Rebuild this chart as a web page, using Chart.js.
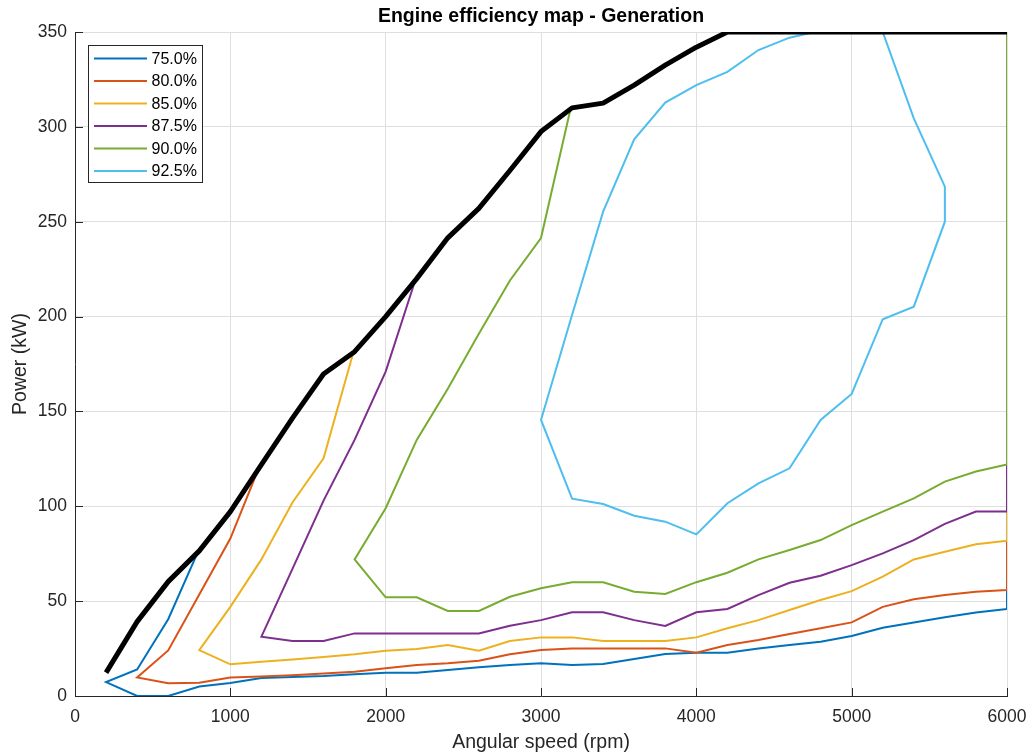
<!DOCTYPE html>
<html>
<head>
<meta charset="utf-8">
<title>Engine efficiency map - Generation</title>
<script src="https://cdn.jsdelivr.net/npm/chart.js@4.4.1/dist/chart.umd.min.js"></script>
<style>
  html, body { margin: 0; padding: 0; background: #ffffff; }
  #wrap { width: 1032px; height: 756px; }
</style>
</head>
<body>
<div id="wrap"><canvas id="map" width="1032" height="756"></canvas></div>
<script>
// Efficiency contour levels shown in the legend
const levelLabels = ['75.0%', '80.0%', '85.0%', '87.5%', '90.0%', '92.5%'];
const levelColors = ['#0072BD', '#D95319', '#EDB120', '#7E2F8E', '#77AC30', '#4DBEEE'];

// 75.0 % contour (rpm / kW)
const rpm750 = [790, 600, 400, 200, 400, 600, 800, 1000, 1200, 1400, 1600, 1800, 2000, 2200, 2400, 2600, 2800, 3000, 3200, 3400, 3600, 3800, 4000, 4200, 4400, 4600, 4800, 5000, 5200, 5400, 5600, 5800, 6000, 6000];
const kw750  = [75.7, 40.5, 14, 7.3, 0, 0, 5, 6.8, 9.5, 10, 10.5, 11.5, 12.3, 12.3, 13.7, 15.1, 16.3, 17.2, 16.4, 16.9, 19.5, 22.1, 22.8, 22.8, 25, 26.9, 28.6, 31.6, 36, 38.8, 41.5, 44, 45.9, 55.9];

// 80.0 % contour
const rpm800 = [1180, 1000, 800, 600, 400, 600, 800, 1000, 1200, 1400, 1600, 1800, 2000, 2200, 2400, 2600, 2800, 3000, 3200, 3400, 3600, 3800, 4000, 4200, 4400, 4600, 4800, 5000, 5200, 5400, 5600, 5800, 6000, 6000];
const kw800  = [119.5, 83, 53.5, 24, 9.8, 6.7, 7, 9.8, 10.3, 11, 11.8, 12.8, 14.6, 16.3, 17.2, 18.6, 22, 24.2, 25.1, 25.1, 25.1, 25.1, 22.8, 26.9, 29.5, 32.7, 35.7, 38.8, 47, 51, 53.2, 55, 55.9, 81.9];

// 85.0 % contour
const rpm850 = [1790, 1600, 1400, 1200, 1000, 800, 1000, 1200, 1400, 1600, 1800, 2000, 2200, 2400, 2600, 2800, 3000, 3200, 3400, 3600, 3800, 4000, 4200, 4400, 4600, 4800, 5000, 5200, 5400, 5600, 5800, 6000, 6000];
const kw850  = [180.5, 125.3, 102, 72, 47, 24.2, 16.7, 18, 19.3, 20.5, 22, 23.9, 24.8, 26.9, 23.9, 29, 30.9, 30.9, 29, 29, 29, 30.9, 35.7, 40, 45.3, 50.6, 55.3, 62.9, 72, 76, 80, 81.9, 97.2];

// 87.5 % contour
const rpm875 = [2190, 2000, 1800, 1600, 1400, 1200, 1400, 1600, 1800, 2000, 2200, 2400, 2600, 2800, 3000, 3200, 3400, 3600, 3800, 4000, 4200, 4400, 4600, 4800, 5000, 5200, 5400, 5600, 5800, 6000, 6000];
const kw875  = [219, 171, 135, 103, 67, 31.3, 29, 29, 33, 33, 33, 33, 33, 37, 40, 44.1, 44.1, 40, 36.9, 44.1, 45.9, 53.2, 59.7, 63.4, 69, 75.2, 82.2, 90.7, 97.2, 97.2, 122.1];

// 90.0 % contour
const rpm900 = [3190, 3000, 2800, 2600, 2400, 2200, 2000, 1800, 2000, 2200, 2400, 2600, 2800, 3000, 3200, 3400, 3600, 3800, 4000, 4200, 4400, 4600, 4800, 5000, 5200, 5400, 5600, 5800, 6000, 6000];
const kw900  = [309.4, 241.4, 219, 191, 162, 135, 99, 72, 52, 52, 44.8, 44.8, 52.3, 56.8, 60, 60, 55, 53.8, 60, 65, 72, 77, 82.2, 90.1, 97.2, 104.2, 113, 118.3, 122.1, 350];

// 92.5 % contour (island)
const rpm925 = [4760, 4600, 4400, 4200, 4000, 3800, 3600, 3400, 3200, 3000, 3200, 3400, 3600, 3800, 4000, 4200, 4400, 4600, 4800, 5000, 5200, 5400, 5600, 5600, 5400, 5200];
const kw925  = [350, 347, 340.5, 329, 322, 312.8, 293.4, 255.3, 200.8, 145.5, 104, 101.2, 95, 91.9, 85.2, 101.6, 112.1, 120, 145.5, 159.2, 198.6, 205.2, 250, 268.5, 304.5, 350];

// Maximum power envelope
const rpmMax = [200, 400, 600, 800, 1000, 1200, 1400, 1600, 1800, 2000, 2200, 2400, 2600, 2800, 3000, 3200, 3400, 3600, 3800, 4000, 4200, 6000];
const kwMax  = [12.3, 39.2, 60.3, 76.5, 97.2, 122, 146.5, 169.7, 181.5, 200, 220, 241.5, 257, 277, 297.5, 310, 312.5, 322, 332.5, 342, 350, 350];

// Axis ticks
const rpmTicks = [0, 1000, 2000, 3000, 4000, 5000, 6000];
const kwTicks = [0, 50, 100, 150, 200, 250, 300, 350];

const FONT = '"Liberation Sans", Arial, Helvetica, sans-serif';
const AXIS_COLOR = '#262626';

function toPoints(xs, ys) {
  return xs.map((x, i) => ({ x: x, y: ys[i] }));
}

const contourSeries = [
  [rpm750, kw750], [rpm800, kw800], [rpm850, kw850],
  [rpm875, kw875], [rpm900, kw900], [rpm925, kw925]
];

const datasets = contourSeries.map((s, i) => ({
  label: levelLabels[i],
  data: toPoints(s[0], s[1]),
  borderColor: levelColors[i],
  backgroundColor: levelColors[i],
  borderWidth: 2,
  pointRadius: 0,
  tension: 0,
  showLine: true,
  fill: false,
  order: contourSeries.length - i
}));

datasets.push({
  label: 'Max power',
  data: toPoints(rpmMax, kwMax),
  borderColor: '#000000',
  backgroundColor: '#000000',
  borderWidth: 5,
  borderJoinStyle: 'round',
  borderCapStyle: 'butt',
  pointRadius: 0,
  tension: 0,
  showLine: true,
  fill: false,
  order: 0
});

// Tick marks pointing into the plot area
const innerTicks = {
  id: 'innerTicks',
  afterDatasetsDraw(chart) {
    const { ctx, chartArea, scales } = chart;
    const len = 8;
    ctx.save();
    ctx.strokeStyle = AXIS_COLOR;
    ctx.lineWidth = 1;
    ctx.beginPath();
    scales.x.ticks.forEach((t) => {
      const px = Math.round(scales.x.getPixelForValue(t.value)) + 0.5;
      ctx.moveTo(px, chartArea.bottom);
      ctx.lineTo(px, chartArea.bottom - len);
    });
    scales.y.ticks.forEach((t) => {
      const py = Math.round(scales.y.getPixelForValue(t.value)) + 0.5;
      ctx.moveTo(chartArea.left, py);
      ctx.lineTo(chartArea.left + len, py);
    });
    ctx.stroke();
    ctx.restore();
  }
};

// Boxed legend in the upper-left corner of the plot
const boxedLegend = {
  id: 'boxedLegend',
  afterDraw(chart) {
    const ctx = chart.ctx;
    const left = chart.chartArea.left + 13.5;
    const top = chart.chartArea.top + 13.5;
    const w = 114, h = 137;
    ctx.save();
    ctx.fillStyle = '#ffffff';
    ctx.fillRect(left, top, w, h);
    ctx.strokeStyle = AXIS_COLOR;
    ctx.lineWidth = 1;
    ctx.strokeRect(left, top, w, h);
    ctx.font = '16px ' + FONT;
    ctx.textAlign = 'left';
    ctx.textBaseline = 'middle';
    levelLabels.forEach((lab, i) => {
      const yy = top + 13 + i * 22.5;
      ctx.strokeStyle = levelColors[i];
      ctx.lineWidth = 2;
      ctx.beginPath();
      ctx.moveTo(left + 5.5, yy);
      ctx.lineTo(left + 58.5, yy);
      ctx.stroke();
      ctx.fillStyle = '#000000';
      ctx.fillText(lab, left + 63, yy + 1);
    });
    ctx.restore();
  }
};

new Chart(document.getElementById('map'), {
  type: 'scatter',
  data: { datasets: datasets },
  options: {
    responsive: false,
    animation: false,
    devicePixelRatio: 1,
    layout: { padding: { left: 0, right: 25, top: 0, bottom: 0 } },
    plugins: {
      legend: { display: false },
      tooltip: { enabled: false },
      title: {
        display: true,
        text: 'Engine efficiency map - Generation',
        fullSize: false,
        color: '#000000',
        font: { family: FONT, size: 19.5, weight: 'bold', lineHeight: 1.2 },
        padding: { top: 5.3, bottom: 3.3 }
      }
    },
    scales: {
      x: {
        type: 'linear',
        min: 0,
        max: 6000,
        afterBuildTicks(scale) { scale.ticks = rpmTicks.map(v => ({ value: v })); },
        afterFit(scale) { scale.height = 60; },
        grid: {
          color: '#dfdfdf',
          lineWidth: 1,
          drawTicks: true,
          tickLength: 8,
          tickColor: 'rgba(0,0,0,0)'
        },
        border: { display: true, color: AXIS_COLOR, width: 1 },
        ticks: {
          color: AXIS_COLOR,
          padding: 3,
          maxRotation: 0,
          font: { family: FONT, size: 17.5 },
          callback: (v) => String(v)
        },
        title: {
          display: true,
          text: 'Angular speed (rpm)',
          color: AXIS_COLOR,
          font: { family: FONT, size: 19.5, lineHeight: 1.2 },
          padding: { top: 0, bottom: 2 }
        }
      },
      y: {
        type: 'linear',
        min: 0,
        max: 350,
        afterBuildTicks(scale) { scale.ticks = kwTicks.map(v => ({ value: v })); },
        afterFit(scale) { scale.width = 75; },
        grid: { color: '#dfdfdf', lineWidth: 1, drawTicks: false },
        border: { display: true, color: AXIS_COLOR, width: 1 },
        ticks: {
          color: AXIS_COLOR,
          padding: 8,
          font: { family: FONT, size: 17.5 },
          callback: (v) => String(v)
        },
        title: {
          display: true,
          text: 'Power (kW)',
          color: AXIS_COLOR,
          font: { family: FONT, size: 19.5, lineHeight: 1.2 },
          padding: { top: 9, bottom: 0 }
        }
      }
    }
  },
  plugins: [innerTicks, boxedLegend]
});
</script>
</body>
</html>
